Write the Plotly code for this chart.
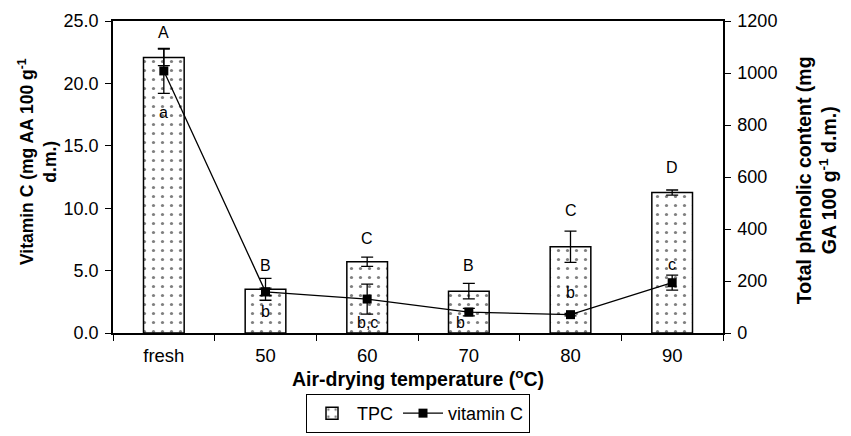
import plotly.graph_objects as go

categories = ["fresh", "50", "60", "70", "80", "90"]
tpc = [1060, 168, 274, 161, 332, 540]
tpc_err = [32, 42, 18, 30, 60, 10]
vitc = [21.0, 3.3, 2.72, 1.68, 1.47, 4.03]
vitc_err = [1.8, 0.3, 1.2, 0.3, 0.1, 0.6]
tpc_letters = ["A", "B", "C", "B", "C", "D"]
tpc_letter_y = [1154, 258, 365, 258, 473, 635]
vitc_letters = ["a", "b", "b,c", "b", "b", "c"]
vitc_letter_y = [850, 81, 42, 42, 154, 262]
vitc_letter_dx = [0, 0, 0, -8, 0, 0]

FONT = "Liberation Sans, Arial, sans-serif"

fig = go.Figure()
fig.add_trace(go.Bar(
    x=categories, y=tpc, name="TPC", width=0.4,
    marker=dict(color="white", line=dict(color="black", width=1.5),
                pattern=dict(shape=".", fgcolor="black", bgcolor="white", size=9, solidity=0.1)),
    error_y=dict(type="data", array=tpc_err, color="black", thickness=1.3, width=6),
    yaxis="y",
))
fig.add_trace(go.Scatter(
    x=categories, y=vitc, name="vitamin C", mode="lines+markers",
    line=dict(color="black", width=1.3),
    marker=dict(symbol="square", size=9, color="black"),
    error_y=dict(type="data", array=vitc_err, color="black", thickness=1.3, width=6),
    yaxis="y2",
))

for i, (t, yy) in enumerate(zip(tpc_letters, tpc_letter_y)):
    fig.add_annotation(x=i, y=yy, xref="x", yref="y", text=t, showarrow=False,
                       font=dict(size=16, color="black", family=FONT))
for i, (t, yy, dx) in enumerate(zip(vitc_letters, vitc_letter_y, vitc_letter_dx)):
    fig.add_annotation(x=i, y=yy, xref="x", yref="y", text=t, showarrow=False, xshift=dx,
                       font=dict(size=16, color="black", family=FONT))

# axis titles as rotated annotations
fig.add_annotation(xref="paper", yref="paper", x=-0.1246, y=0.551, xanchor="center", yanchor="middle",
                   textangle=-90, showarrow=False,
                   text="<b>Vitamin C (mg AA 100 g<sup>-1</sup><br>d.m.)</b>",
                   font=dict(size=17.5, color="black", family=FONT))
fig.add_annotation(xref="paper", yref="paper", x=1.1525, y=0.49, xanchor="center", yanchor="middle",
                   textangle=-90, showarrow=False,
                   text="<b>Total phenolic content (mg<br>GA 100 g<sup>-1</sup> d.m.)</b>",
                   font=dict(size=19.5, color="black", family=FONT))

fig.update_layout(
    width=851, height=436,
    margin=dict(l=113, r=128, t=21, b=103, autoexpand=False),
    paper_bgcolor="white", plot_bgcolor="white",
    font=dict(family=FONT, size=16, color="black"),
    showlegend=True,
    legend=dict(orientation="h", x=0.5, xanchor="center", yref="container", y=0.007, yanchor="bottom",
                bordercolor="black", borderwidth=1, font=dict(size=18),
                itemwidth=40, tracegroupgap=0),
    bargap=0.6,
    xaxis=dict(
        type="category", range=[-0.5, 5.5], showline=True, linecolor="black", linewidth=1.5, mirror=True,
        ticks="outside", tickson="boundaries", ticklen=6, tickcolor="black",
        tickfont=dict(size=18.5), tickangle=0, ticklabelstandoff=5,
        title=dict(text="<b>Air-drying temperature (<sup>o</sup>C)</b>", font=dict(size=19.5), standoff=6),
        showgrid=False,
    ),
    yaxis=dict(
        side="right", range=[0, 1200], dtick=200, showline=True, linecolor="black", linewidth=1.5,
        ticks="outside", ticklen=6, tickcolor="black", tickfont=dict(size=18),
        showgrid=False, zeroline=False, ticklabelstandoff=3,
    ),
    yaxis2=dict(
        side="left", overlaying="y", range=[0, 25], dtick=5, tickformat=".1f",
        showline=True, linecolor="black", linewidth=1.5,
        ticks="outside", ticklen=6, tickcolor="black", tickfont=dict(size=18),
        showgrid=False, zeroline=False, ticklabelstandoff=3,
    ),
)

fig.write_html("out.html", config={"displayModeBar": False},
               post_script="document.body.style.margin='0';document.body.style.overflow='hidden';")
